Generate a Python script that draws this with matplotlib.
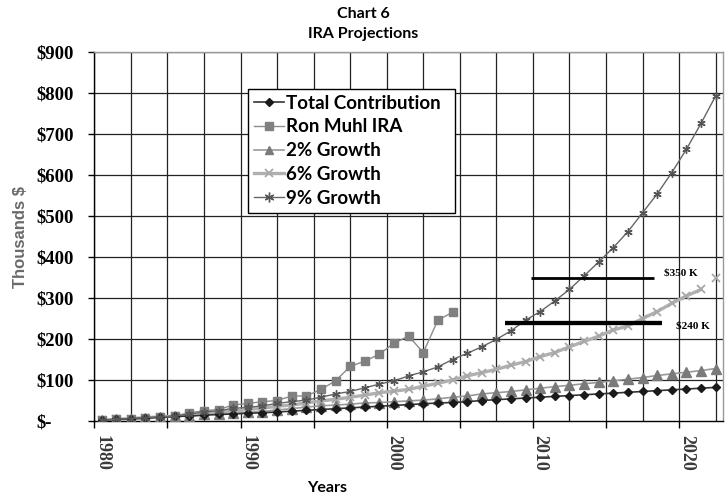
import numpy as np
import matplotlib
matplotlib.use("Agg")
import matplotlib.pyplot as plt
from matplotlib.patches import Rectangle

# ---- data (thousands of dollars) ----
years = list(range(1980, 2023))

total_contribution = [2, 4, 5, 7, 9, 11, 12, 14, 16, 17, 19, 20, 22, 24, 26, 28, 30, 32, 34, 36,
                      38, 40, 42, 44, 45, 47, 50, 52, 54, 56, 58, 60, 62, 64, 66, 68, 70, 72, 74,
                      76, 78, 80, 82]

ron_muhl_years = list(range(1980, 2005))
ron_muhl_ira = [2, 4, 6, 8, 10, 12, 20, 25, 28, 39, 43, 47, 50, 61, 61, 77, 98, 133, 146, 163,
                190, 207, 167, 246, 265]

growth_2 = [2, 4, 6, 8, 10, 12, 13, 16, 18, 19, 21, 23, 27, 30, 34, 37, 39, 41, 44, 45,
            47, 49, 51, 54, 58, 61, 66, 69, 72, 76, 80, 84, 87, 91, 94, 98, 102, 106, 111,
            115, 119, 123, 128]

growth_6 = [2, 4, 6, 8, 10, 12, 15, 18, 21, 24, 28, 31, 36, 39, 44, 49, 53, 58, 63, 69,
            73, 77, 85, 92, 100, 110, 118, 126, 136, 145, 157, 167, 181, 194, 207, 222, 232,
            250, 267, 287, 305, 321, 348]

growth_9 = [2, 4, 6, 8, 10, 12, 17, 22, 25, 31, 33, 37, 43, 47, 51, 58, 66, 72, 81, 90,
            98, 110, 120, 132, 150, 165, 181, 199, 220, 246, 267, 293, 321, 354, 388, 423,
            462, 508, 554, 606, 663, 726, 793]

target_350 = 350
target_240 = 240

series_labels = ["Total Contribution", "Ron Muhl IRA", "2% Growth", "6% Growth", "9% Growth"]
y_ticks = list(range(0, 1000, 100))
y_tick_labels = ["$-", "$100", "$200", "$300", "$400", "$500", "$600", "$700", "$800", "$900"]
x_label_years = [1980, 1990, 2000, 2010, 2020]

# ---- figure ----
W, H = 727, 496
fig = plt.figure(figsize=(W / 100, H / 100), dpi=100)
left, right, top, bottom = 94.3, 723, 52, 421
ax = fig.add_axes([left / W, 1 - bottom / H, (right - left) / W, (bottom - top) / H])

ax.set_xlim(1979.5, 2022.5)
ax.set_ylim(0, 900)

# grid
for gx in np.arange(1979.5, 2022.01, 2.5):
    ax.axvline(gx, color="#222222", lw=0.9, zorder=1)
for gy in y_ticks[1:]:
    ax.axhline(gy, color="#222222", lw=0.9, zorder=1)

# series
ax.plot(years, total_contribution, color="#333333", lw=1.2, marker="D", ms=4.5,
        mfc="#1a1a1a", mec="#1a1a1a", zorder=5)
ax.plot(ron_muhl_years, ron_muhl_ira, color="#8c8c8c", lw=1.0, marker="s", ms=6,
        mfc="#808080", mec="#808080", zorder=4)
ax.plot(years, growth_2, color="#999999", lw=1.2, marker="^", ms=7,
        mfc="#7a7a7a", mec="#7a7a7a", zorder=3)
ax.plot(years[:-1], growth_6[:-1], color="#b0b0b0", lw=2.4, zorder=3)
ax.plot(years, growth_6, ls="none", marker="x", ms=6, mew=1.3, color="#a8a8a8", zorder=3)
ax.plot(years, growth_9, color="#666666", lw=1.0, marker=(6, 2, 0), ms=6, mew=1.0,
        mec="#555555", zorder=6)

# target lines
ax.plot([2009.4, 2017.76], [target_350, target_350], color="black", lw=2.0, zorder=7,
        solid_capstyle="butt")
ax.plot([2007.57, 2018.35], [target_240, target_240], color="black", lw=3.1, zorder=7,
        solid_capstyle="butt")
ax.annotate(f"${target_350} K", xy=(2017.76, target_350), xytext=(10, 4.5),
            textcoords="offset pixels", va="center", ha="left",
            fontfamily="Liberation Serif", fontweight="bold", fontsize=8)
ax.annotate(f"${target_240} K", xy=(2018.35, target_240), xytext=(14, -3.5),
            textcoords="offset pixels", va="center", ha="left",
            fontfamily="Liberation Serif", fontweight="bold", fontsize=8)

# spines
for s in ("top", "right"):
    ax.spines[s].set_color("#999999")
    ax.spines[s].set_linewidth(1.0)
for s in ("left", "bottom"):
    ax.spines[s].set_color("black")
    ax.spines[s].set_linewidth(1.0)

# y axis
ax.set_yticks(y_ticks)
ax.set_yticklabels(y_tick_labels, fontfamily="Liberation Serif", fontweight="bold", fontsize=13.5)
ax.tick_params(axis="y", direction="out", length=4.3, width=1, color="black", pad=37.7)
for lab in ax.get_yticklabels():
    lab.set_horizontalalignment("left")

# x axis: labels on the years, tick marks on category boundaries
ax.set_xticks(x_label_years)
ax.set_xticklabels([str(y) for y in x_label_years], rotation=-90, fontfamily="Liberation Serif",
                   fontweight="bold", fontsize=13, color="#3a3a3a")
ax.tick_params(axis="x", which="major", length=0, pad=10)
ax.set_xticks(np.arange(1979.5, 2020, 5), minor=True)
ax.tick_params(axis="x", which="minor", direction="out", length=5, width=1, color="black")

# titles and axis labels
fig.text(363 / W, 1 - 14 / H, "Chart 6", ha="center", va="center",
         fontfamily="Lato", fontweight="bold", fontsize=11.5)
fig.text(363 / W, 1 - 34 / H, "IRA Projections", ha="center", va="center",
         fontfamily="Lato", fontweight="bold", fontsize=11.5)
fig.text(327 / W, 1 - 488 / H, "Years", ha="center", va="center",
         fontfamily="Lato", fontweight="bold", fontsize=11.5)
fig.text(21 / W, 1 - 237 / H, "Thousands $", ha="center", va="center", rotation=90,
         fontfamily="Liberation Sans", fontweight="bold", fontsize=12, color="#6a6a6a")

# legend: fixed-size white box with the entries placed inside it
box_x0 = (248 - left) / (right - left)
box_x1 = (455 - left) / (right - left)
box_top = (bottom - 89) / (bottom - top)
box_bot = (bottom - 213) / (bottom - top)
ax.add_patch(Rectangle((box_x0, box_bot), box_x1 - box_x0, box_top - box_bot,
                       transform=ax.transAxes, facecolor="white", edgecolor="black",
                       lw=1.0, zorder=9))
handles = [
    plt.Line2D([], [], color="#333333", lw=1.2, marker="D", ms=4.5, mfc="#1a1a1a", mec="#1a1a1a"),
    plt.Line2D([], [], color="#8c8c8c", lw=1.0, marker="s", ms=6, mfc="#808080", mec="#808080"),
    plt.Line2D([], [], color="#999999", lw=1.2, marker="^", ms=6, mfc="#7a7a7a", mec="#7a7a7a"),
    plt.Line2D([], [], color="#b0b0b0", lw=2.4, marker="x", ms=6, mew=1.3, mec="#a8a8a8"),
    plt.Line2D([], [], color="#666666", lw=1.0, marker=(6, 2, 0), ms=7, mec="#555555"),
]
leg = ax.legend(handles, series_labels, loc="upper left",
                bbox_to_anchor=(box_x0, box_top),
                borderaxespad=0, frameon=False,
                prop={"family": "Lato", "weight": "bold", "size": 13.5},
                handlelength=1.6, handletextpad=0.15, labelspacing=0.36, borderpad=0.3)
leg.set_zorder(10)

fig.savefig("out.png", dpi=100)
